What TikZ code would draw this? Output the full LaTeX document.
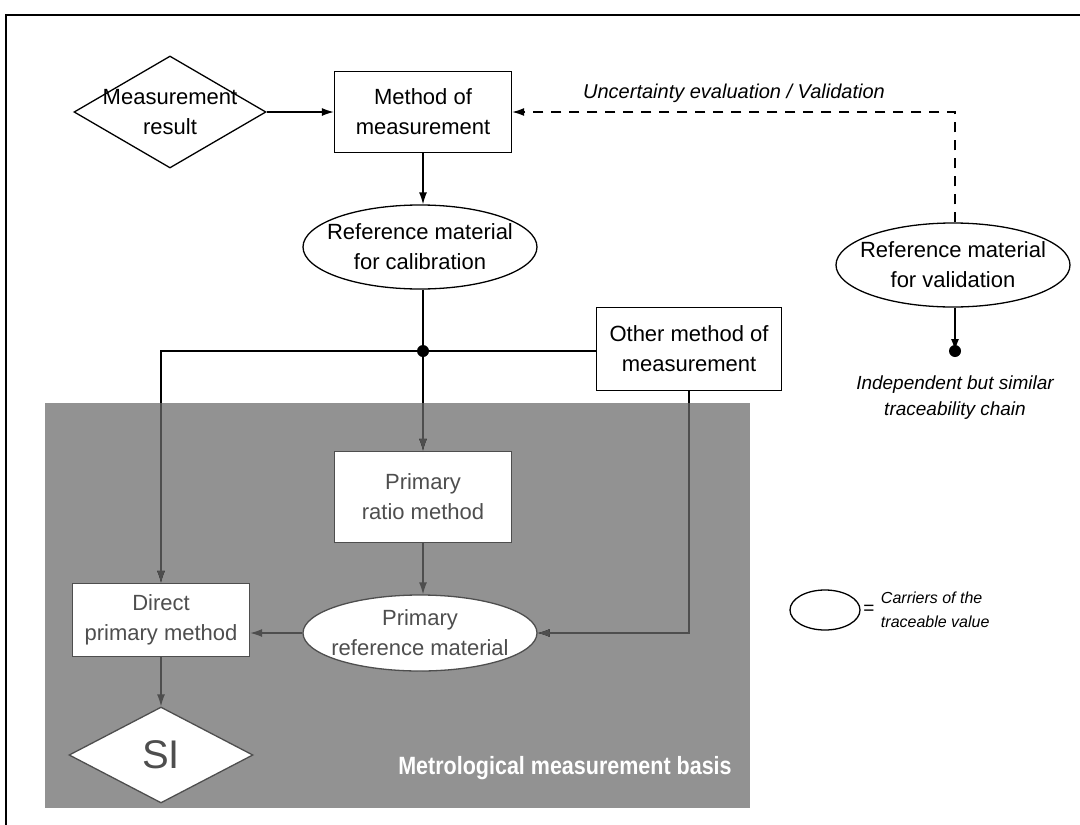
\documentclass[tikz,border=0pt]{standalone}
\usepackage{fontspec}
\setmainfont{Liberation Sans}
\usetikzlibrary{shapes.geometric,arrows.meta}

\definecolor{basisgray}{RGB}{146,146,146}
\definecolor{inkgray}{RGB}{78,78,78}

\tikzset{
  box/.style={draw, rectangle, fill=white, align=center, inner sep=0pt,
    font=\fontsize{22}{30}\selectfont},
  carrier/.style={draw, ellipse, fill=white, align=center, inner xsep=-30pt,
    inner ysep=-2pt, font=\fontsize{22}{30}\selectfont},
  rhomb/.style={draw, diamond, fill=white, align=center, inner xsep=-50pt,
    inner ysep=-25pt, font=\fontsize{22}{30}\selectfont},
  inbasis/.style={draw=inkgray, text=inkgray},
  note/.style={align=center, font=\itshape\fontsize{19}{26}\selectfont},
}

% links that start above the grey basis and end inside it
\newcommand\crosslinks{%
  \draw[->] (junc) -| (direct.north);
  \draw[->] (junc) -- (ratio.north);
  \draw[->] (other.south) |- (prm.east);
}

\begin{document}
\begin{tikzpicture}[x=1pt, y=-1pt, line width=1.3pt,
    >={Latex[length=12pt,width=8pt]}]
    \useasboundingbox (0,0) rectangle (1080,825);
    % frame (right and bottom edges lie off the page)
    \draw[line width=1.5pt] (6,840) -- (6,15) -- (1090,15);

    % metrological measurement basis
    \fill[basisgray] (45,403) rectangle (750,808);
    \node[text=white, xscale=0.86, font=\bfseries\fontsize{25}{28}\selectfont] (basis)
        at (565,768) {Metrological measurement basis};

    % upper chain
    \node[rhomb, minimum width=192pt, minimum height=112pt] (result)
        at (170,112) {Measurement\\result};
    \node[box, minimum width=177pt, minimum height=81pt] (method)
        at (423,112) {Method of\\measurement};
    \node[carrier, minimum width=234pt, minimum height=84pt] (calib)
        at (420,247) {Reference material\\for calibration};
    \node[box, minimum width=185pt, minimum height=83pt] (other)
        at (689,349) {Other method of\\measurement};
    \coordinate (junc) at (423,351);

    % inside the basis
    \node[box, inbasis, minimum width=177pt, minimum height=91pt] (ratio)
        at (423,497) {Primary\\ratio method};
    \node[carrier, inbasis, minimum width=234pt, minimum height=76pt] (prm)
        at (420,633) {Primary\\reference material};
    \node[box, inbasis, minimum width=177pt, minimum height=73pt] (direct)
        at (161,620) {Direct\\primary method};
    \node[rhomb, inbasis, minimum width=184pt, minimum height=96pt,
        font=\fontsize{40}{44}\selectfont] (si) at (161,755) {SI};

    % validation branch
    \node[carrier, minimum width=234pt, minimum height=84pt] (valid)
        at (953,265) {Reference material\\for validation};
    \coordinate (vdot) at (955,351);
    \node[note] (indep) at (955,398) {Independent but similar\\traceability chain};
    \node[note, font=\itshape\fontsize{20}{26}\selectfont] (uncert)
        at (734,93) {Uncertainty evaluation / Validation};

    % legend
    \node[draw, ellipse, minimum width=70pt, minimum height=40pt] (legend)
        at (825,610) {};
    \node[font=\fontsize{19}{22}\selectfont] (equals) at (869,610) {=};
    \node[note, align=left, anchor=west, font=\itshape\fontsize{16}{24}\selectfont]
        (carriers) at (877,610) {Carriers of the\\traceable value};

    % connectors
    \draw[->] (result.east) -- (method.west);
    \draw[->] (method.south) -- (method.south |- calib.north);
    \draw (calib.south -| junc) -- (junc);
    \draw (junc) -- (junc -| other.west);
    \fill (junc) circle (6pt);
    \draw[->, dashed, dash pattern=on 10pt off 8pt] (valid.north -| vdot) |- (method.east);
    \draw[->] (valid.south -| vdot) -- (vdot);
    \fill (vdot) circle (6pt);

    \crosslinks
    \begin{scope}
        \clip (45,403) rectangle (750,808);
        \begin{scope}[inkgray]
            \crosslinks
        \end{scope}
    \end{scope}

    \draw[->, inkgray] (ratio.south) -- (ratio.south |- prm.north);
    \draw[->, inkgray] (prm.west) -- (prm.west -| direct.east);
    \draw[->, inkgray] (direct.south) -- (si.north);
\end{tikzpicture}
\end{document}
